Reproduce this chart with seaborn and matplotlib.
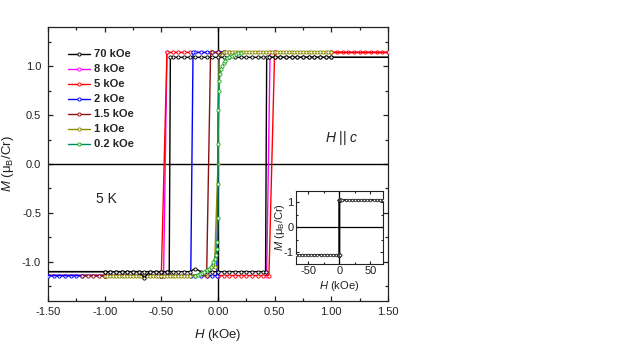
import matplotlib
matplotlib.use("Agg")
import matplotlib.pyplot as plt
from matplotlib.lines import Line2D
from matplotlib.ticker import MultipleLocator, FormatStrFormatter
import pandas as pd
import seaborn as sns

# ---------------- data (H in kOe, M in muB/Cr) ----------------
loop_labels = ["70 kOe", "8 kOe", "5 kOe", "2 kOe", "1.5 kOe", "1 kOe", "0.2 kOe"]
loop_colors = ["#000000", "#FF00FF", "#FF0000", "#0000FF", "#8B1010", "#8C8C00", "#008C5A"]

black_desc = [(70, 1.09), (60, 1.09), (50, 1.09), (40, 1.09), (30, 1.09), (20, 1.09), (10, 1.09),
              (5, 1.09), (2, 1.09), (1.00, 1.09), (0.95, 1.09), (0.90, 1.09), (0.85, 1.09),
              (0.80, 1.09), (0.75, 1.09), (0.70, 1.09), (0.65, 1.09), (0.60, 1.09), (0.55, 1.09),
              (0.50, 1.09), (0.45, 1.09), (0.40, 1.09), (0.35, 1.09), (0.30, 1.09), (0.25, 1.09),
              (0.20, 1.09), (0.15, 1.09), (0.10, 1.09), (0.05, 1.09), (0.00, 1.09), (-0.05, 1.09),
              (-0.10, 1.09), (-0.15, 1.09), (-0.20, 1.09), (-0.25, 1.09), (-0.30, 1.09),
              (-0.35, 1.09), (-0.40, 1.09), (-0.42, 1.09), (-0.43, -1.10), (-0.45, -1.10),
              (-0.50, -1.10), (-0.55, -1.10), (-0.60, -1.10), (-0.65, -1.10), (-0.70, -1.10),
              (-0.75, -1.10), (-0.80, -1.10), (-0.85, -1.10), (-0.90, -1.10), (-0.95, -1.10),
              (-1.00, -1.10), (-2, -1.10), (-5, -1.10), (-10, -1.10), (-20, -1.10), (-30, -1.10),
              (-40, -1.10), (-50, -1.10), (-60, -1.10), (-70, -1.10)]
black_asc = [(-70, -1.10), (-65, -1.10), (-60, -1.10), (-55, -1.10), (-50, -1.10), (-45, -1.10),
             (-40, -1.10), (-35, -1.10), (-30, -1.10), (-25, -1.10), (-20, -1.10), (-15, -1.10),
             (-10, -1.10), (-5, -1.10), (-2, -1.10), (-1.00, -1.10), (-0.95, -1.10), (-0.90, -1.10),
             (-0.85, -1.10), (-0.80, -1.10), (-0.75, -1.10), (-0.70, -1.10), (-0.65, -1.16),
             (-0.60, -1.10), (-0.55, -1.10), (-0.50, -1.10), (-0.45, -1.10), (-0.40, -1.10),
             (-0.35, -1.10), (-0.30, -1.10), (-0.25, -1.10), (-0.20, -1.07), (-0.15, -1.10),
             (-0.10, -1.10), (-0.05, -1.10), (0.00, -1.10), (0.05, -1.10), (0.10, -1.10),
             (0.15, -1.10), (0.20, -1.10), (0.25, -1.10), (0.30, -1.10), (0.35, -1.10),
             (0.40, -1.10), (0.42, -1.10), (0.43, 1.09), (0.45, 1.09), (0.50, 1.09), (0.55, 1.09),
             (0.60, 1.09), (0.65, 1.09), (0.70, 1.09), (0.75, 1.09), (0.80, 1.09), (0.85, 1.09),
             (0.90, 1.09), (0.95, 1.09), (1.00, 1.09), (2, 1.09), (5, 1.09), (10, 1.09), (15, 1.09),
             (20, 1.09), (25, 1.09), (30, 1.09), (35, 1.09), (40, 1.09), (45, 1.09), (50, 1.09),
             (55, 1.09), (60, 1.09), (65, 1.09), (70, 1.09)]

magenta_desc = [(1.55, 1.14), (0.50, 1.14), (-0.45, 1.14), (-0.48, -1.14), (-1.55, -1.14)]
magenta_asc = [(-1.55, -1.14), (0.00, -1.14), (0.43, -1.14), (0.46, 1.14), (1.55, 1.14)]

red_desc = [(1.55, 1.14), (1.50, 1.14), (1.45, 1.14), (1.40, 1.14), (1.35, 1.14), (1.30, 1.14),
            (1.25, 1.14), (1.20, 1.14), (1.15, 1.14), (1.10, 1.14), (1.05, 1.14), (1.00, 1.14),
            (0.50, 1.14), (0.00, 1.14), (-0.25, 1.14), (-0.30, 1.14), (-0.35, 1.14), (-0.40, 1.14),
            (-0.45, 1.14), (-0.50, -1.14), (-1.00, -1.14), (-1.55, -1.14)]
red_asc = [(-1.55, -1.14), (-1.00, -1.14), (-0.50, -1.14), (0.00, -1.14), (0.05, -1.14),
           (0.10, -1.14), (0.15, -1.14), (0.20, -1.14), (0.25, -1.14), (0.30, -1.14),
           (0.35, -1.14), (0.40, -1.14), (0.45, -1.14), (0.50, 1.14), (1.00, 1.14), (1.55, 1.14)]

blue_asc = [(-1.55, -1.14), (-1.50, -1.14), (-1.45, -1.14), (-1.40, -1.14), (-1.35, -1.14),
            (-1.30, -1.14), (-1.25, -1.14), (-1.20, -1.14), (-1.00, -1.14), (-0.50, -1.14),
            (-0.20, -1.14), (-0.15, -1.14), (-0.10, -1.14), (-0.05, -1.14), (-0.01, -1.14),
            (0.01, 1.14), (0.05, 1.14)]
blue_desc = [(0.05, 1.14), (0.00, 1.14), (-0.05, 1.14), (-0.10, 1.14), (-0.15, 1.14),
             (-0.20, 1.14), (-0.22, 1.14), (-0.24, -1.14), (-0.50, -1.14), (-1.55, -1.14)]

brown_asc = [(-1.20, -1.14), (-1.15, -1.14), (-1.10, -1.14), (-1.05, -1.14), (-1.00, -1.14),
             (-0.50, -1.14), (-0.10, -1.14), (-0.065, 1.14), (-0.05, 1.14), (0.00, 1.14),
             (0.05, 1.14), (0.10, 1.14)]

olive_loop = [(-1.000, -1.14), (-0.975, -1.14), (-0.950, -1.14), (-0.925, -1.14), (-0.900, -1.14),
              (-0.875, -1.14), (-0.850, -1.14), (-0.825, -1.14), (-0.800, -1.14), (-0.775, -1.14),
              (-0.750, -1.14), (-0.725, -1.14), (-0.700, -1.14), (-0.675, -1.14), (-0.650, -1.14),
              (-0.625, -1.14), (-0.600, -1.14), (-0.575, -1.14), (-0.550, -1.14), (-0.525, -1.14),
              (-0.500, -1.14), (-0.475, -1.14), (-0.450, -1.14), (-0.425, -1.14), (-0.400, -1.14),
              (-0.375, -1.14), (-0.350, -1.14), (-0.325, -1.14), (-0.300, -1.14), (-0.275, -1.14),
              (-0.250, -1.14), (-0.100, -1.12), (-0.030, -1.05), (0.000, 0.00), (0.010, 1.10),
              (0.050, 1.14), (0.075, 1.14), (0.100, 1.14), (0.125, 1.14), (0.150, 1.14),
              (0.175, 1.14), (0.200, 1.14), (0.225, 1.14), (0.250, 1.14), (0.275, 1.14),
              (0.300, 1.14), (0.325, 1.14), (0.350, 1.14), (0.375, 1.14), (0.400, 1.14),
              (0.425, 1.14), (0.450, 1.14), (0.475, 1.14), (0.500, 1.14), (0.525, 1.14),
              (0.550, 1.14), (0.575, 1.14), (0.600, 1.14), (0.625, 1.14), (0.650, 1.14),
              (0.675, 1.14), (0.700, 1.14), (0.725, 1.14), (0.750, 1.14), (0.775, 1.14),
              (0.800, 1.14), (0.825, 1.14), (0.850, 1.14), (0.875, 1.14), (0.900, 1.14),
              (0.925, 1.14), (0.950, 1.14), (0.975, 1.14), (1.000, 1.14)]

green_loop = [(-0.20, -1.14), (-0.18, -1.13), (-0.16, -1.12), (-0.14, -1.11), (-0.12, -1.10),
              (-0.10, -1.08), (-0.08, -1.07), (-0.06, -1.05), (-0.04, -1.00), (-0.03, -0.97),
              (-0.02, -0.93), (-0.01, -0.87), (-0.005, -0.80), (0.000, -0.55), (0.000, -0.20),
              (0.000, 0.20), (0.002, 0.55), (0.005, 0.75), (0.010, 0.85), (0.020, 0.92),
              (0.030, 0.97), (0.040, 1.00), (0.050, 1.03), (0.060, 1.05), (0.080, 1.08),
              (0.100, 1.09), (0.120, 1.10), (0.140, 1.11), (0.160, 1.12), (0.180, 1.13),
              (0.200, 1.13)]

loops = [
    ("70 kOe", [black_desc, black_asc]),
    ("8 kOe", [magenta_desc, magenta_asc]),
    ("5 kOe", [red_desc, red_asc]),
    ("2 kOe", [blue_asc, blue_desc]),
    ("1.5 kOe", [brown_asc]),
    ("1 kOe", [olive_loop]),
    ("0.2 kOe", [green_loop]),
]


def to_frame(branches):
    rows = []
    for b, pts in enumerate(branches):
        for h, m in pts:
            rows.append((h, m, b))
    return pd.DataFrame(rows, columns=["H", "M", "branch"])


# ---------------- style ----------------
sns.set_theme(style="ticks")
plt.rcParams["font.family"] = ["Liberation Sans", "DejaVu Sans"]
plt.rcParams["mathtext.fontset"] = "custom"
plt.rcParams["mathtext.rm"] = "Liberation Sans"
plt.rcParams["mathtext.it"] = "Liberation Sans:italic"
plt.rcParams["axes.unicode_minus"] = False

fig = plt.figure(figsize=(6.23, 3.5), dpi=100)
ax = fig.add_axes([0.0770, 0.140, 0.5457, 0.7829])

zorders = {"70 kOe": 7, "8 kOe": 2, "5 kOe": 3, "2 kOe": 4, "1.5 kOe": 5, "1 kOe": 6, "0.2 kOe": 8}
color_of = dict(zip(loop_labels, loop_colors))
mec_of = dict(color_of)
mec_of["0.2 kOe"] = "#22AA22"
MS = 2.3

for lab, branches in loops:
    df = to_frame(branches)
    c = color_of[lab]
    sns.lineplot(data=df, x="H", y="M", units="branch", estimator=None, sort=False,
                 color=c, marker="o", markersize=MS, mfc="white", mec=mec_of[lab],
                 mew=0.65, lw=1.0, ax=ax, zorder=zorders[lab], legend=False)

ax.axhline(0, color="black", lw=1.0, zorder=1)
ax.axvline(0, color="black", lw=1.0, zorder=1)

ax.set_xlim(-1.5, 1.5)
ax.set_ylim(-1.4, 1.4)
ax.xaxis.set_major_locator(MultipleLocator(0.5))
ax.xaxis.set_minor_locator(MultipleLocator(0.25))
ax.yaxis.set_major_locator(MultipleLocator(0.5))
ax.yaxis.set_minor_locator(MultipleLocator(0.25))
ax.xaxis.set_major_formatter(FormatStrFormatter("%.2f"))
ax.yaxis.set_major_formatter(FormatStrFormatter("%.1f"))
ax.tick_params(which="both", direction="in", top=True, right=True, colors="#222222",
               labelcolor="#222222", labelsize=8)
ax.tick_params(which="major", length=3.5, width=0.9)
ax.tick_params(which="minor", length=2.0, width=0.9)
ax.tick_params(axis="y", pad=5)
ax.tick_params(axis="x", pad=4.5)
for s in ax.spines.values():
    s.set_linewidth(0.9)
    s.set_color("#222222")

ax.set_xlabel(r"$\it{H}$ (kOe)", fontsize=9.5, color="#222222")
ax.set_ylabel(r"$\it{M}$ (μ$_\mathrm{B}$/Cr)", fontsize=9.5, color="#222222")
ax.xaxis.set_label_coords(0.5, -0.095)
ax.yaxis.set_label_coords(-0.095, 0.5)

handles = [Line2D([], [], color=color_of[l], marker="o", ms=MS, mfc="white", mec=mec_of[l],
                  mew=0.65, lw=1.0) for l in loop_labels]
leg = ax.legend(handles, loop_labels, loc="upper left", bbox_to_anchor=(0.059, 0.918),
                frameon=False, borderpad=0, borderaxespad=0, handlelength=2.0,
                handletextpad=0.35, labelspacing=0.45, prop={"weight": "bold", "size": 8})

ax.text(0.171, 0.372, "5 K", transform=ax.transAxes, ha="center", va="center", fontsize=10,
        color="#222222")
ax.text(0.865, 0.595, r"$\it{H}$ || $\it{c}$", transform=ax.transAxes, ha="center",
        va="center", fontsize=10, color="#222222")

# ---------------- inset ----------------
ins = fig.add_axes([0.4746, 0.2466, 0.1401, 0.2086])
ins_df = to_frame([black_desc, black_asc])
sns.lineplot(data=ins_df, x="H", y="M", units="branch", estimator=None, sort=False,
             color="black", marker="o", markersize=1.8, mfc="white", mec="#333333", mew=0.6,
             lw=1.0, ax=ins, legend=False, zorder=3)
ins.axhline(0, color="black", lw=0.9, zorder=1)
ins.axvline(0, color="black", lw=0.9, zorder=1)
ins.set_xlim(-70, 70)
ins.set_ylim(-1.46, 1.46)
ins.xaxis.set_major_locator(MultipleLocator(50))
ins.xaxis.set_minor_locator(MultipleLocator(25))
ins.yaxis.set_major_locator(MultipleLocator(1))
ins.yaxis.set_minor_locator(MultipleLocator(0.5))
ins.tick_params(which="both", direction="in", top=True, right=True, labelsize=8,
                colors="#222222", labelcolor="#222222")
ins.tick_params(which="major", length=2.5, width=0.8)
ins.tick_params(which="minor", length=1.5, width=0.8)
ins.tick_params(axis="y", pad=1.5)
ins.tick_params(axis="x", pad=2)
for s in ins.spines.values():
    s.set_linewidth(0.8)
    s.set_color("#222222")
ins.set_xlabel(r"$\it{H}$ (kOe)", fontsize=8, color="#222222", labelpad=2)
ins.set_ylabel(r"$\it{M}$ (μ$_\mathrm{B}$/Cr)", fontsize=8, color="#222222")
ins.yaxis.set_label_coords(-0.10, 0.5)

fig.savefig("out.png", dpi=100)
